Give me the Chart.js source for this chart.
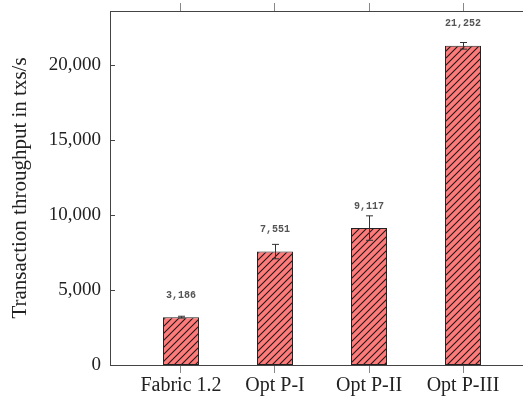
<!DOCTYPE html>
<html>
<head>
<meta charset="utf-8">
<script src="https://cdn.jsdelivr.net/npm/chart.js@4"></script>
<style>
  html, body { margin: 0; padding: 0; background: #fff; overflow: hidden; }
  canvas { display: block; }
</style>
</head>
<body>
<canvas id="c" width="600" height="401"></canvas>
<script>
// Throughput per configuration, with run-to-run spread
const categories = ['Fabric 1.2', 'Opt P-I', 'Opt P-II', 'Opt P-III'];
const throughput = [3186, 7551, 9117, 21252];
const spread = [60, 480, 815, 220];
const yTicks = [0, 5000, 10000, 15000, 20000];

const serif = '"Liberation Serif", "Times New Roman", serif';
const ink = '#222';
const axisColor = '#444';

// Diagonal hatching over a light red fill
function hatch() {
  const s = 7;
  const t = document.createElement('canvas');
  t.width = s; t.height = s;
  const g = t.getContext('2d');
  g.fillStyle = '#fc7c7c';
  g.fillRect(0, 0, s, s);
  g.strokeStyle = '#2a1515';
  g.lineWidth = 1.1;
  g.beginPath();
  g.moveTo(-1, s + 1); g.lineTo(s + 1, -1);
  g.moveTo(-2, 2); g.lineTo(2, -2);
  g.moveTo(s - 2, s + 2); g.lineTo(s + 2, s - 2);
  g.stroke();
  return document.getElementById('c').getContext('2d').createPattern(t, 'repeat');
}

const fmt = v => Number(v).toLocaleString('en-US');

// Error bars, inner y ticks and value labels
const extras = {
  id: 'extras',
  afterDatasetsDraw(chart) {
    const ctx = chart.ctx;
    const y = chart.scales.y;
    const area = chart.chartArea;
    const meta = chart.getDatasetMeta(0);
    ctx.save();
    // tick marks pointing into the plot
    ctx.strokeStyle = axisColor;
    ctx.lineWidth = 1;
    yTicks.forEach(v => {
      const py = Math.round(y.getPixelForValue(v)) + 0.5;
      ctx.beginPath();
      ctx.moveTo(area.left, py);
      ctx.lineTo(area.left + 5, py);
      ctx.stroke();
    });
    meta.data.forEach((bar, i) => {
      const x = Math.round(bar.x) + 0.5;
      const hi = y.getPixelForValue(throughput[i] + spread[i]);
      const lo = y.getPixelForValue(throughput[i] - spread[i]);
      ctx.strokeStyle = '#333';
      ctx.lineWidth = 1;
      ctx.beginPath();
      ctx.moveTo(x, lo); ctx.lineTo(x, hi);
      ctx.moveTo(x - 3.5, hi); ctx.lineTo(x + 3.5, hi);
      ctx.moveTo(x - 3.5, lo); ctx.lineTo(x + 3.5, lo);
      ctx.stroke();
      const top = y.getPixelForValue(throughput[i]);
      ctx.fillStyle = '#555';
      ctx.font = 'bold 10px "Liberation Mono", "DejaVu Sans Mono", monospace';
      ctx.textAlign = 'center';
      ctx.textBaseline = 'middle';
      ctx.fillText(fmt(throughput[i]), bar.x, top - 22);
    });
    ctx.restore();
  }
};

const xCommon = {
  type: 'linear',
  min: -0.755,
  max: 3.755,
  offset: false,
  grid: { display: true, offset: false, drawOnChartArea: false, drawTicks: true, tickLength: 8, color: '#888' },
  border: { display: true, color: axisColor, width: 1 }
};

new Chart(document.getElementById('c'), {
  type: 'bar',
  data: {
    datasets: [{
      data: throughput.map((v, i) => ({ x: i, y: v })),
      backgroundColor: hatch(),
      borderColor: '#222',
      borderWidth: 1,
      borderSkipped: false,
      barPercentage: 0.383,
      categoryPercentage: 1
    }]
  },
  options: {
    responsive: false,
    animation: false,
    // the plot frame continues past the visible right edge
    layout: { padding: { top: 0, left: 0, right: 66, bottom: 0 } },
    plugins: { legend: { display: false }, tooltip: { enabled: false } },
    scales: {
      x: Object.assign({}, xCommon, {
        position: 'bottom',
        afterFit: s => { s.height = 36; s.paddingLeft = 0; s.paddingRight = 0; },
        ticks: {
          stepSize: 1,
          includeBounds: false,
          autoSkip: false,
          maxRotation: 0,
          padding: 1,
          color: ink,
          font: { family: serif, size: 20 },
          callback: v => (Number.isInteger(v) ? categories[v] : '')
        }
      }),
      xTop: Object.assign({}, xCommon, {
        position: 'top',
        afterFit: s => { s.height = 11; s.paddingLeft = 0; s.paddingRight = 0; },
        ticks: { display: false, stepSize: 1, includeBounds: false }
      }),
      y: {
        min: 0,
        max: 23570,
        afterFit: s => { s.width = 110; s.paddingTop = 0; s.paddingBottom = 0; },
        grid: { display: false, drawTicks: false },
        border: { display: true, color: axisColor, width: 1 },
        afterBuildTicks: s => { s.ticks = yTicks.map(v => ({ value: v })); },
        ticks: {
          padding: 9,
          color: ink,
          font: { family: serif, size: 19 },
          callback: v => fmt(v)
        },
        title: {
          display: true,
          text: 'Transaction throughput in txs/s',
          color: ink,
          font: { family: serif, size: 21 },
          padding: { top: 8, bottom: 0 }
        }
      }
    }
  },
  plugins: [extras]
});
</script>
</body>
</html>
